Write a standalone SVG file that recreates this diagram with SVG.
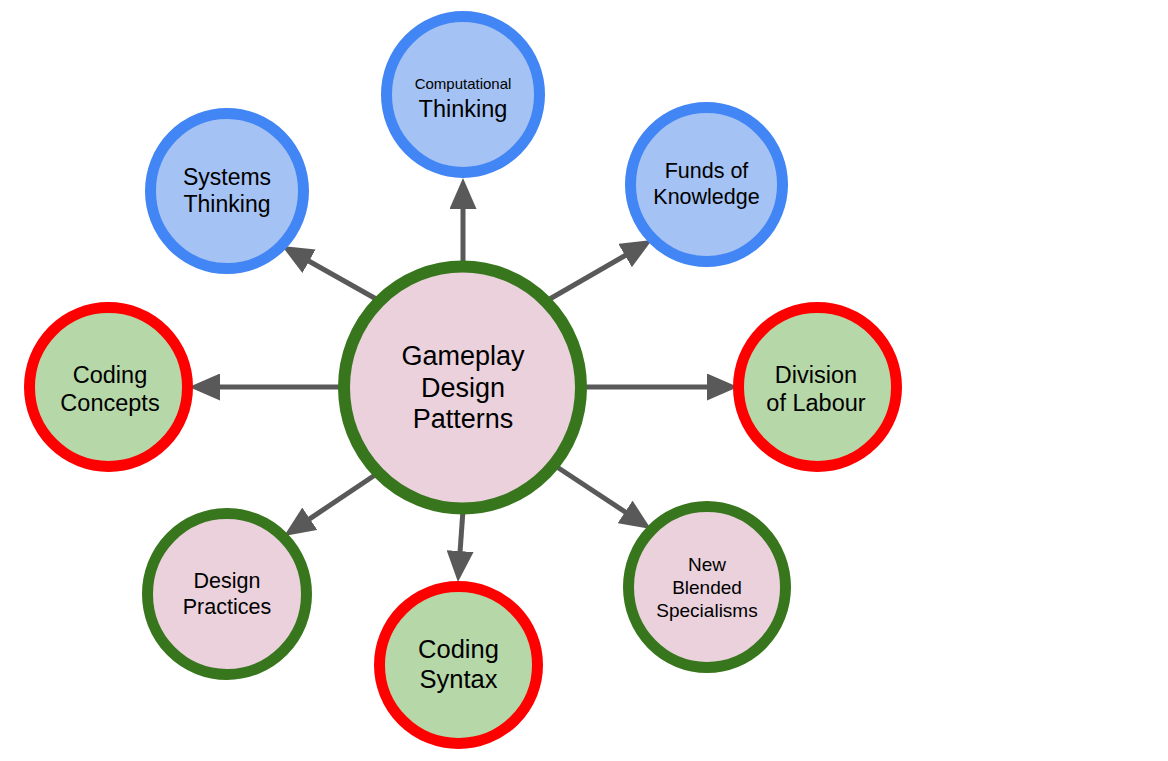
<svg xmlns="http://www.w3.org/2000/svg" width="1168" height="761" viewBox="0 0 1168 761">
<style>
text{font-family:"Liberation Sans",Arial,sans-serif;fill:#000;text-anchor:middle}
.blue{fill:#a4c2f4;stroke:#4285f4;stroke-width:11}
.green{fill:#b6d7a8;stroke:#ff0000;stroke-width:11}
.pink{fill:#ead1dc;stroke:#38761d;stroke-width:11}
.conn line{stroke:#595959;stroke-width:5;marker-end:url(#ah)}
</style>
<defs>
<marker id="ah" viewBox="0 0 31 27" refX="6" refY="13.5" markerWidth="31" markerHeight="27" markerUnits="userSpaceOnUse" orient="auto">
<path d="M0,0 L31,13.5 L0,27 Z" fill="#595959"/>
</marker>
</defs>
<rect width="1168" height="761" fill="#fff"/>
<g class="conn" id="connectors">
<line x1="463" y1="265" x2="463" y2="203"/>
<line x1="378" y1="300" x2="303.8" y2="258.3"/>
<line x1="548" y1="300" x2="630.3" y2="252.5"/>
<line x1="343" y1="387" x2="214" y2="387"/>
<line x1="583" y1="387" x2="713" y2="387"/>
<line x1="378" y1="473" x2="304.8" y2="522.1"/>
<line x1="463" y1="510" x2="459.7" y2="557.1"/>
<line x1="557" y1="467" x2="630.1" y2="515.2"/>
</g>
<g id="gdp">
<ellipse class="pink" cx="462.5" cy="387.5" rx="118.5" ry="121" style="stroke-width:12"/>
<text x="463" y="365" font-size="27">Gameplay</text>
<text x="463" y="397" font-size="27">Design</text>
<text x="463" y="428" font-size="27">Patterns</text>
</g>
<g id="ct">
<ellipse class="blue" cx="463" cy="94.5" rx="76.5" ry="78"/>
<text x="463" y="89" font-size="15">Computational</text>
<text x="463" y="117" font-size="23.5">Thinking</text>
</g>
<g id="st">
<ellipse class="blue" cx="227" cy="191" rx="76.5" ry="77.5"/>
<text x="227" y="185" font-size="23">Systems</text>
<text x="227" y="212" font-size="23">Thinking</text>
</g>
<g id="fk">
<ellipse class="blue" cx="706.5" cy="184.5" rx="76" ry="77"/>
<text x="706.5" y="178" font-size="21.5">Funds of</text>
<text x="706.5" y="204" font-size="21.5">Knowledge</text>
</g>
<g id="cc">
<ellipse class="green" cx="108.5" cy="387" rx="79" ry="79.5"/>
<text x="110" y="383" font-size="23.5">Coding</text>
<text x="110" y="411" font-size="23.5">Concepts</text>
</g>
<g id="dl">
<ellipse class="green" cx="817.5" cy="387" rx="79" ry="79.5"/>
<text x="816" y="383" font-size="23.5">Division</text>
<text x="816" y="411" font-size="23.5">of Labour</text>
</g>
<g id="dp">
<ellipse class="pink" cx="227" cy="594" rx="79.5" ry="80.5"/>
<text x="227" y="588" font-size="21.5">Design</text>
<text x="227" y="614" font-size="21.5">Practices</text>
</g>
<g id="cs">
<ellipse class="green" cx="458.5" cy="665" rx="79" ry="78.5"/>
<text x="458.5" y="658" font-size="25.5">Coding</text>
<text x="458.5" y="688" font-size="25.5">Syntax</text>
</g>
<g id="nbs">
<ellipse class="pink" cx="707" cy="587" rx="78.5" ry="80.5"/>
<text x="707" y="571" font-size="19">New</text>
<text x="707" y="594" font-size="19">Blended</text>
<text x="707" y="617" font-size="19">Specialisms</text>
</g>
</svg>
